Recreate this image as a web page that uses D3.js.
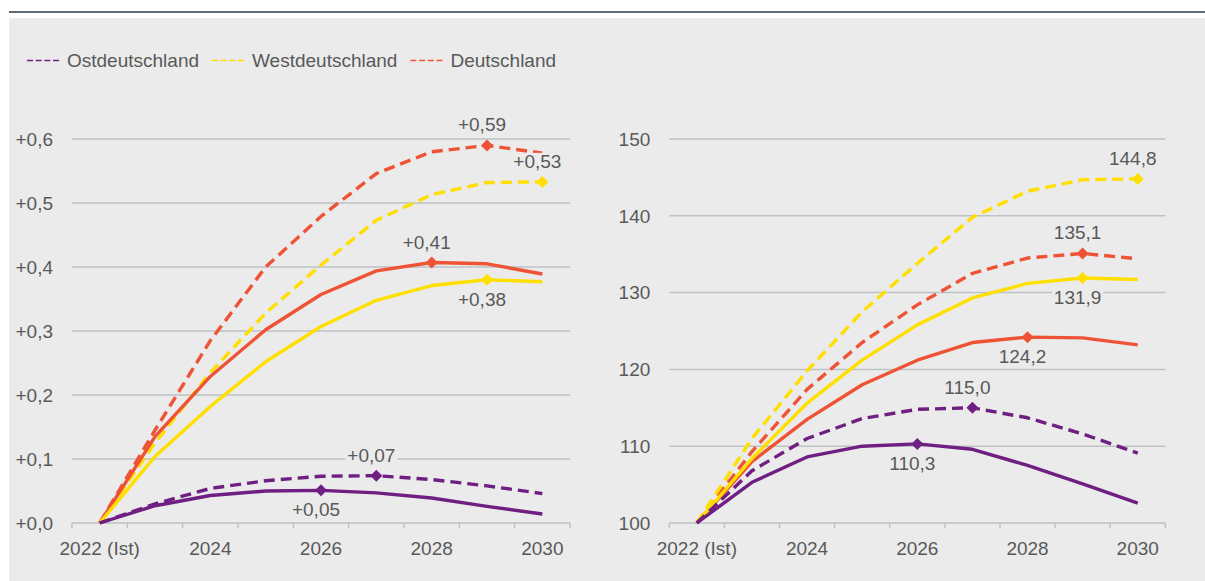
<!DOCTYPE html>
<html>
<head>
<meta charset="utf-8">
<script src="https://cdn.jsdelivr.net/npm/d3@7"></script>
<style>
  body { margin: 0; background: #ffffff; }
  svg { display: block; }
  text { font-family: "Liberation Sans", Arial, sans-serif; fill: #595959; }
</style>
</head>
<body>
<svg id="chart" width="1205" height="581"></svg>
<script>
/**
 * Two line charts side by side: change (left, absolute) and index 2022 = 100 (right)
 * for Ost-, West- and Gesamtdeutschland. Dashed = one scenario, solid = the other.
 */

var years = [2022, 2023, 2024, 2025, 2026, 2027, 2028, 2029, 2030];
var yearLabels = ["2022 (Ist)", "", "2024", "", "2026", "", "2028", "", "2030"];

// left chart, change since 2022
var leftOstDashed  = [0, 0.030, 0.054, 0.066, 0.073, 0.074, 0.068, 0.058, 0.046];
var leftOstSolid   = [0, 0.027, 0.043, 0.050, 0.051, 0.047, 0.039, 0.026, 0.014];
var leftWestDashed = [0, 0.125, 0.235, 0.328, 0.403, 0.473, 0.513, 0.532, 0.533];
var leftWestSolid  = [0, 0.104, 0.182, 0.252, 0.307, 0.348, 0.371, 0.380, 0.377];
var leftDeDashed   = [0, 0.145, 0.285, 0.400, 0.479, 0.546, 0.580, 0.590, 0.578];
var leftDeSolid    = [0, 0.135, 0.229, 0.302, 0.357, 0.394, 0.407, 0.405, 0.389];
var leftTicks = [0, 0.1, 0.2, 0.3, 0.4, 0.5, 0.6];

// right chart, index 2022 = 100
var rightOstDashed  = [100, 106.8, 111.0, 113.6, 114.8, 115.0, 113.7, 111.6, 109.1];
var rightOstSolid   = [100, 105.3, 108.6, 110.0, 110.3, 109.6, 107.5, 105.1, 102.6];
var rightWestDashed = [100, 111.0, 119.8, 127.5, 133.8, 139.8, 143.2, 144.7, 144.8];
var rightWestSolid  = [100, 108.4, 115.6, 121.2, 125.8, 129.3, 131.2, 131.9, 131.7];
var rightDeDashed   = [100, 109.3, 117.4, 123.5, 128.4, 132.5, 134.5, 135.1, 134.4];
var rightDeSolid    = [100, 108.0, 113.5, 118.0, 121.2, 123.5, 124.2, 124.1, 123.2];
var rightTicks = [100, 110, 120, 130, 140, 150];

var legendNames = ["Ostdeutschland", "Westdeutschland", "Deutschland"];

var COLORS = { ost: "#6e1f81", west: "#ffdf00", de: "#ef5336" };

// which point gets a marker + label, and where the label goes
var leftMarks = [
    { key: "deDashed", year: 2029, pos: "above" },
    { key: "westDashed", year: 2030, pos: "above" },
    { key: "deSolid", year: 2028, pos: "above" },
    { key: "westSolid", year: 2029, pos: "below" },
    { key: "ostDashed", year: 2027, pos: "above" },
    { key: "ostSolid", year: 2026, pos: "below" }
];
var rightMarks = [
    { key: "westDashed", year: 2030, pos: "above" },
    { key: "deDashed", year: 2029, pos: "above" },
    { key: "westSolid", year: 2029, pos: "below" },
    { key: "deSolid", year: 2028, pos: "below" },
    { key: "ostDashed", year: 2027, pos: "above" },
    { key: "ostSolid", year: 2026, pos: "below" }
];

var de = d3.formatLocale({ decimal: ",", thousands: ".", grouping: [3], currency: ["", " €"] });

var svg = d3.select("#chart");
var gridColor = "#bec2c5";

// header rule and grey panel
svg.append("rect").attr("x", 9).attr("y", 11).attr("width", 1196).attr("height", 2)
    .attr("fill", "#5f6a71");
svg.append("rect").attr("x", 9).attr("y", 18).attr("width", 1196).attr("height", 563)
    .attr("fill", "#ebebeb");

function buildSeries(ostD, ostS, westD, westS, deD, deS) {
    // drawing order: Deutschland, West, Ost (purple on top)
    return [
        { key: "deDashed", values: deD, color: COLORS.de, dashed: true },
        { key: "westDashed", values: westD, color: COLORS.west, dashed: true },
        { key: "deSolid", values: deS, color: COLORS.de, dashed: false },
        { key: "westSolid", values: westS, color: COLORS.west, dashed: false },
        { key: "ostDashed", values: ostD, color: COLORS.ost, dashed: true },
        { key: "ostSolid", values: ostS, color: COLORS.ost, dashed: false }
    ];
}

function drawPanel(opts) {
    var g = svg.append("g");
    var x = d3.scaleBand().domain(years).range([opts.x0, opts.x1]).padding(0);
    var y = d3.scaleLinear().domain(opts.domain).range([523, 139]);

    // gridlines
    g.selectAll(".grid").data(opts.ticks.slice(1)).enter().append("line")
        .attr("x1", opts.x0).attr("x2", opts.x1)
        .attr("y1", function(d) { return y(d); }).attr("y2", function(d) { return y(d); })
        .attr("stroke", gridColor).attr("stroke-width", 1.5);

    // y labels
    g.selectAll(".ylab").data(opts.ticks).enter().append("text")
        .attr("x", opts.x0 - 19)
        .attr("y", function(d) { return y(d); })
        .attr("dy", "0.36em")
        .attr("text-anchor", "end")
        .attr("font-size", 19)
        .text(opts.tickFormat);

    // x axis line with ticks between categories
    var base = y(opts.domain[0]);
    g.append("line").attr("x1", opts.x0).attr("x2", opts.x1)
        .attr("y1", base).attr("y2", base)
        .attr("stroke", gridColor).attr("stroke-width", 1.5);
    var bounds = years.map(function(d) { return x(d); }).concat([opts.x1]);
    g.selectAll(".xtick").data(bounds).enter().append("line")
        .attr("x1", function(d) { return d; }).attr("x2", function(d) { return d; })
        .attr("y1", base).attr("y2", base + 5)
        .attr("stroke", gridColor).attr("stroke-width", 1.5);

    g.selectAll(".xlab").data(years).enter().append("text")
        .attr("x", function(d) { return x(d) + x.bandwidth() / 2; })
        .attr("y", base + 31.5)
        .attr("text-anchor", "middle")
        .attr("font-size", 19)
        .text(function(d, i) { return yearLabels[i]; });

    var line = d3.line()
        .x(function(d, i) { return x(years[i]) + x.bandwidth() / 2; })
        .y(function(d) { return y(d); });

    g.selectAll(".series").data(opts.series).enter().append("path")
        .attr("d", function(s) { return line(s.values); })
        .attr("fill", "none")
        .attr("stroke", function(s) { return s.color; })
        .attr("stroke-width", 3.4)
        .attr("stroke-linejoin", "round")
        .attr("stroke-dasharray", function(s) { return s.dashed ? "11,6" : null; });

    // markers + value labels
    var byKey = {};
    opts.series.forEach(function(s) { byKey[s.key] = s; });
    var diamond = d3.symbol().type(d3.symbolSquare).size(72);

    opts.marks.forEach(function(m) {
        var s = byKey[m.key];
        var v = s.values[years.indexOf(m.year)];
        var px = x(m.year) + x.bandwidth() / 2;
        var py = y(v);
        g.append("path").attr("d", diamond)
            .attr("transform", "translate(" + px + "," + py + ") rotate(45)")
            .attr("fill", s.color);

        var lab = g.append("text")
            .attr("x", px - 5)
            .attr("y", m.pos === "above" ? py - 14 : py + 26)
            .attr("text-anchor", "middle")
            .attr("font-size", 19)
            .text(opts.labelFormat(v));
        var bb = lab.node().getBBox();
        g.insert("rect", function() { return lab.node(); })
            .attr("x", bb.x - 2).attr("y", bb.y + 2)
            .attr("width", bb.width + 4).attr("height", bb.height - 3)
            .attr("fill", "#ebebeb");
    });
}

drawPanel({
    x0: 72, x1: 570,
    domain: [0, 0.6],
    ticks: leftTicks,
    tickFormat: de.format("+.1f"),
    labelFormat: de.format("+.2f"),
    series: buildSeries(leftOstDashed, leftOstSolid, leftWestDashed, leftWestSolid, leftDeDashed, leftDeSolid),
    marks: leftMarks
});

drawPanel({
    x0: 669.3, x1: 1165.3,
    domain: [100, 150],
    ticks: rightTicks,
    tickFormat: de.format(".0f"),
    labelFormat: de.format(".1f"),
    series: buildSeries(rightOstDashed, rightOstSolid, rightWestDashed, rightWestSolid, rightDeDashed, rightDeSolid),
    marks: rightMarks
});

// legend (dashed entries only, as in the original)
var legendColors = [COLORS.ost, COLORS.west, COLORS.de];
var lx = 27;
legendNames.forEach(function(name, i) {
    svg.append("line")
        .attr("x1", lx).attr("x2", lx + 32)
        .attr("y1", 60.5).attr("y2", 60.5)
        .attr("stroke", legendColors[i]).attr("stroke-width", 1.5)
        .attr("stroke-dasharray", "6,2.67");
    var t = svg.append("text")
        .attr("x", lx + 40).attr("y", 67)
        .attr("font-size", 19)
        .text(name);
    lx += 40 + t.node().getComputedTextLength() + 13;
});
</script>
</body>
</html>
